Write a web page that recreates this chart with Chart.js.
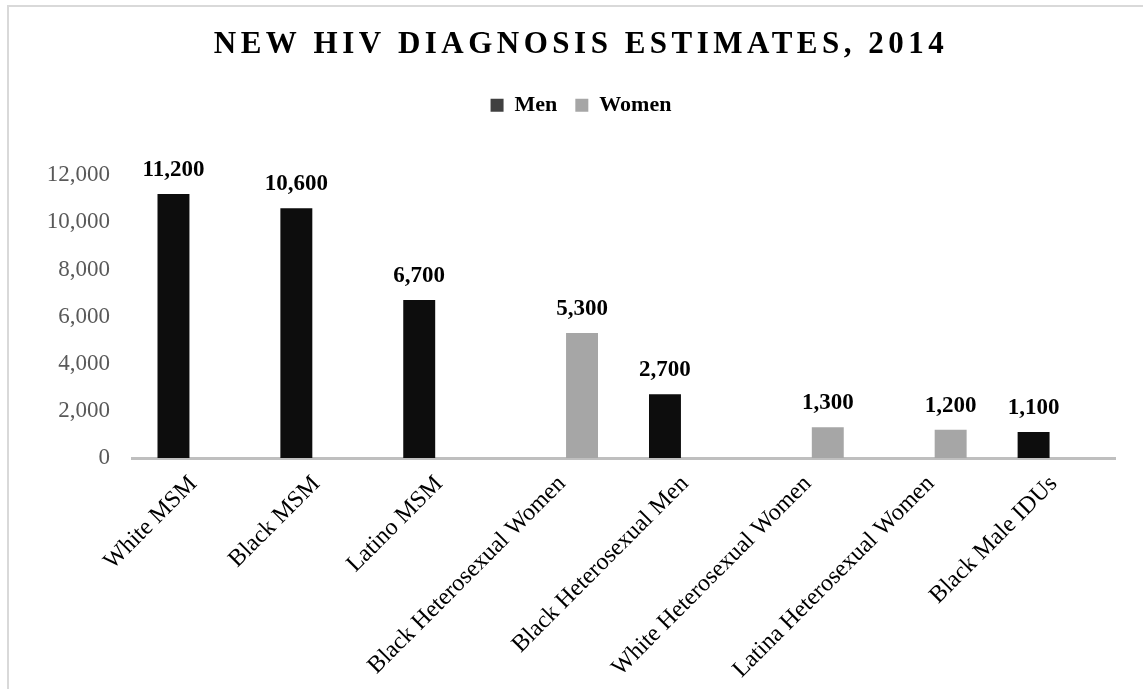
<!DOCTYPE html>
<html>
<head>
<meta charset="utf-8">
<title>New HIV Diagnosis Estimates, 2014</title>
<script src="https://cdn.jsdelivr.net/npm/chart.js@4.4.1/dist/chart.umd.min.js"></script>
<style>
  html, body { margin: 0; padding: 0; background: #fff; }
  #wrap { position: relative; width: 1143px; height: 689px; overflow: hidden; }
  #frame { position: absolute; left: 7px; top: 5px; right: -10px; bottom: -10px;
           border-left: 2px solid #d9d9d9; border-top: 2px solid #d9d9d9; }
  canvas { position: absolute; left: 0; top: 0; }
</style>
</head>
<body>
<div id="wrap">
  <div id="frame"></div>
  <canvas id="hivChart" width="1143" height="689"></canvas>
</div>
<script>
// categories and values (null = no bar for that series)
const categories = [
    "White MSM", "Black MSM", "Latino MSM", "Black Heterosexual Women",
    "Black Heterosexual Men", "White Heterosexual Women", "Latina Heterosexual Women", "Black Male IDUs"
];
const menValues = [11200, 10600, 6700, null, 2700, null, null, 1100];
const womenValues = [null, null, null, 5300, null, 1300, 1200, null];
const yTickValues = [0, 2000, 4000, 6000, 8000, 10000, 12000];

const seriesNames = ["Men", "Women"];
const barColors = ["#0d0d0d", "#a6a6a6"];
const legendColors = ["#404040", "#a6a6a6"];

Chart.defaults.font.family = '"Liberation Serif", "Times New Roman", serif';

// numbers above the bars
const valueLabels = {
    id: "valueLabels",
    afterDatasetsDraw(chart) {
        const ctx = chart.ctx;
        ctx.save();
        ctx.font = 'bold 23px "Liberation Serif"';
        ctx.fillStyle = "#000";
        ctx.textAlign = "center";
        ctx.textBaseline = "alphabetic";
        chart.data.datasets.forEach((ds, i) => {
            chart.getDatasetMeta(i).data.forEach((bar, j) => {
                const v = ds.data[j];
                if (v == null) return;
                ctx.fillText(v.toLocaleString("en-US"), bar.x, bar.y - 18);
            });
        });
        ctx.restore();
    }
};

// extra room under the legend + spaced-out title letters
const layoutTweaks = {
    id: "layoutTweaks",
    beforeInit(chart) {
        const legend = chart.legend;
        const fit = legend.fit;
        legend.fit = function () {
            fit.call(this);
            this.height += 49;
        };
        const title = chart.titleBlock;
        const draw = title.draw;
        title.draw = function () {
            const ctx = this.ctx;
            ctx.save();
            ctx.letterSpacing = "4.5px";
            draw.call(this);
            ctx.restore();
        };
    }
};

const el = document.getElementById("hivChart");
new Chart(el.getContext("2d"), {
    type: "bar",
    data: {
        labels: categories,
        datasets: [
            { label: seriesNames[0], data: menValues, backgroundColor: barColors[0] },
            { label: seriesNames[1], data: womenValues, backgroundColor: barColors[1] }
        ]
    },
    options: {
        responsive: false,
        animation: false,
        categoryPercentage: 0.65,
        barPercentage: 0.8,
        layout: { padding: { left: 47, right: 28, top: 0, bottom: 0 } },
        scales: {
            x: {
                afterFit(scale) { scale.height = 231; },
                grid: { display: false, drawTicks: false },
                border: { display: true, color: "#bfbfbf", width: 3 },
                ticks: {
                    color: "#000",
                    font: { size: 24 },
                    minRotation: 45,
                    maxRotation: 45,
                    autoSkip: false,
                    padding: 12
                }
            },
            y: {
                min: 0,
                max: 12000,
                afterBuildTicks(scale) {
                    scale.ticks = yTickValues.map(v => ({ value: v }));
                },
                afterFit(scale) { scale.width = 85; },
                grid: { display: false, drawTicks: false },
                border: { display: false },
                ticks: {
                    color: "#595959",
                    font: { size: 23 },
                    padding: 22
                }
            }
        },
        plugins: {
            title: {
                display: true,
                text: "NEW HIV DIAGNOSIS ESTIMATES, 2014",
                color: "#000",
                font: { size: 31, weight: "bold" },
                padding: { top: 26, bottom: 13 }
            },
            legend: {
                position: "top",
                labels: {
                    color: "#000",
                    font: { size: 22, weight: "bold" },
                    boxWidth: 13,
                    boxHeight: 13,
                    padding: 18,
                    generateLabels(chart) {
                        const items = Chart.defaults.plugins.legend.labels.generateLabels(chart);
                        items.forEach((it, i) => {
                            it.fillStyle = legendColors[i];
                            it.strokeStyle = legendColors[i];
                            it.lineWidth = 0;
                        });
                        return items;
                    }
                }
            },
            tooltip: { enabled: false }
        }
    },
    plugins: [valueLabels, layoutTweaks]
});
</script>
</body>
</html>
